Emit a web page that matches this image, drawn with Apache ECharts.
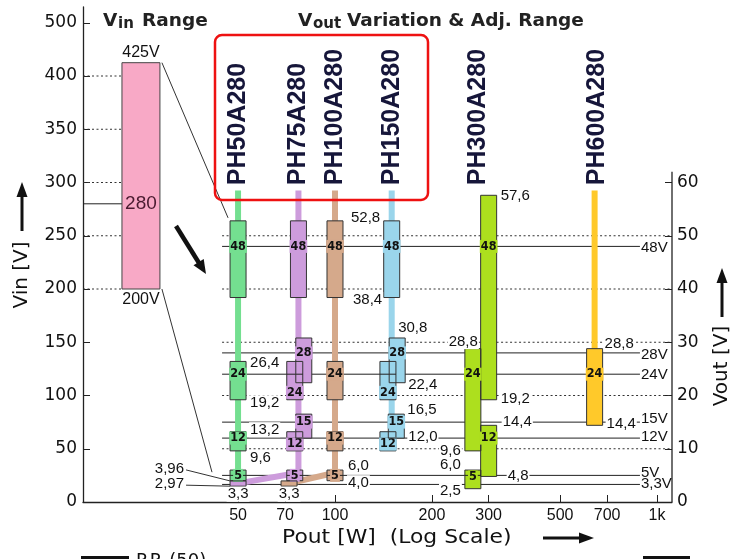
<!DOCTYPE html>
<html>
<head>
<meta charset="utf-8">
<title>PH-A280 Vin / Vout range</title>
<script src="https://cdn.jsdelivr.net/npm/echarts@6.0.0/dist/echarts.min.js"></script>
<style>
html, body { margin: 0; padding: 0; background: #fff; }
#main { width: 744px; height: 559px; }
</style>
</head>
<body>
<div id="main"></div>
<script>
// ---- values ----
const modelNames  = ['PH50A280', 'PH75A280', 'PH100A280', 'PH150A280', 'PH300A280', 'PH600A280'];
const modelPower  = [50, 77, 100, 150, 278, 650];
const modelColors = ['#74df90', '#cd9cdc', '#d5a98b', '#9ad5eb', '#addf1e', '#ffc92a'];

// adjustable Vout windows: owner model, power (W), low, high, nominal (V)
const boxModel   = [0, 0, 0, 0,  1, 1, 1, 1, 1, 1, 1,  2, 2, 2, 2, 2,  3, 3, 3, 3, 3,  4, 4, 4, 4,  5];
const boxPower   = [50, 50, 50, 50,  77, 75, 80, 75, 80, 75, 50,  100, 100, 100, 100, 72,  150, 146, 156, 146, 155,  300, 268, 300, 268,  640];
const boxLow     = [38.4, 19.2, 9.6, 4.0,  38.4, 19.2, 22.4, 9.6, 12.0, 4.0, 2.97,  38.4, 19.2, 9.6, 4.0, 2.97,  38.4, 19.2, 22.4, 9.6, 12.0,  19.2, 9.6, 4.8, 2.5,  14.4];
const boxHigh    = [52.8, 26.4, 13.2, 6.0,  52.8, 26.4, 30.8, 13.2, 16.5, 6.0, 3.96,  52.8, 26.4, 13.2, 6.0, 3.96,  52.8, 26.4, 30.8, 13.2, 16.5,  57.6, 28.8, 14.4, 6.0,  28.8];
const boxNominal = [48, 24, 12, 5,  48, 24, 28, 12, 15, 5, 3.3,  48, 24, 12, 5, 3.3,  48, 24, 28, 12, 15,  48, 24, 12, 5,  24];

// power bus of each model (W, Vout)
const stemModel  = [0, 1, 2, 3, 5];
const stemPoints = [
  [[50, 58.5], [50, 5]],
  [[77, 58.5], [77, 5.5], [50, 3.5]],
  [[100, 58.5], [100, 5.5], [72, 3.5]],
  [[150, 58.5], [150, 15]],
  [[640, 58.5], [640, 28.8]]
];

const levelVolts  = [48, 28, 24, 15, 12, 5, 3.3];
const levelLabels = ['48V', '28V', '24V', '15V', '12V', '5V', '3,3V'];

const vinLow = 200, vinHigh = 425, vinNominal = 280;

const vinTicks     = [0, 50, 100, 150, 200, 250, 300, 350, 400, 500];
const voutTicks    = [0, 10, 20, 30, 40, 50, 60];
const powerTicks   = [50, 70, 100, 200, 300, 500, 700, 1000];
const powerLabels  = ['50', '70', '100', '200', '300', '500', '700', '1k'];
const vinDotted    = [200, 250, 300, 350, 400];
const voutDotted   = [10, 20, 30, 40, 50];

// ---- layout ----
const VOUT_RATIO = 5;                 // Vout axis = Vin axis / 5
const VIN_MAX = 464.8;
const P_MIN = 16.5, P_MAX = 1113;
const lw = w => Math.log10(w);
const X_MIN = lw(P_MIN), X_MAX = lw(P_MAX);
const BOX_W = 16;
const VIN_BAR_W = [21.8, 28.6];       // where the Vin bar sits along the W axis
const LEVEL_FROM = 44.6, LEVEL_TO = 885;
const VOUT_AXIS_TOP = 62;
const boxLabelAt = [48, 24, 12, 5,  48, 20.6, 28, 10.9, 15, 5, null,  48, 24, 12, 5, null,  48, 20.6, 28, 10.9, 15,  48, 24, 12, 4.7,  24];
const levelDy = [1, 2, 1, -3, -1, -3, -1];
// annotations: box, value key, side, dx, dy, leader line
const annSpec = [
  [11, 'hi', 'r', 7, -3], [11, 'lo', 'r', 9, 2],
  [1, 'hi', 'r', 3, 1], [1, 'lo', 'r', 3, 3],
  [2, 'hi', 'r', 3, -2], [2, 'lo', 'r', 3, 7],
  [14, 'hi', 'r', 4, -4], [14, 'lo', 'r', 4, 2],
  [10, 'nom', 'b', 0, 8], [15, 'nom', 'b', 0, 8],
  [18, 'hi', 'r', -8, -10], [18, 'lo', 'r', 2, 2],
  [20, 'hi', 'r', 2, -4], [20, 'lo', 'r', 3, -1],
  [22, 'hi', 'l', 14, -7], [22, 'lo', 'l', -3, 0],
  [24, 'hi', 'l', -3, -5], [24, 'lo', 'l', -3, 2],
  [21, 'hi', 'r', 3, 1], [21, 'lo', 'r', 3, -1],
  [23, 'hi', 'r', 5, -3], [23, 'lo', 'r', 10, -1],
  [25, 'hi', 'r', 1, -5], [25, 'lo', 'r', 3, -1],
  [10, 'hi', 'l', -45, -12, true], [10, 'lo', 'l', -45, -2, true]
];

const brk = v => v <= 400 ? v : 400 + (v - 400) / 2;   // Vin axis is squeezed above 400
const unbrk = v => v <= 400 ? v : 400 + (v - 400) * 2;
const fmt = v => {
  const d = Math.abs(v * 10 - Math.round(v * 10)) < 1e-9 ? 1 : 2;
  return v.toFixed(d).replace('.', ',');
};
const boxValue = (i, k) => k === 'hi' ? boxHigh[i] : k === 'lo' ? boxLow[i] : boxNominal[i];

const SANS = '"Liberation Sans", Arial, sans-serif';
const DEJA = '"DejaVu Sans", sans-serif';
const NARROW = '"Liberation Sans Narrow", "DejaVu Sans Condensed", sans-serif';
const INK = '#222';

const chart = echarts.init(document.getElementById('main'));

function boxGeom(api, i) {
  const top = api.coord([lw(boxPower[i]), boxHigh[i]]);
  const bot = api.coord([lw(boxPower[i]), boxLow[i]]);
  return { cx: top[0], x: top[0] - BOX_W / 2, y: top[1], width: BOX_W, height: bot[1] - top[1] };
}

const option = {
  animation: false,
  backgroundColor: '#fff',
  grid: { left: 83, right: 72, top: 7, bottom: 57 },
  xAxis: {
    type: 'value', min: X_MIN, max: X_MAX,
    axisLine: { lineStyle: { color: INK, width: 1.3 } },
    axisTick: { inside: true, length: 7, lineStyle: { color: INK }, customValues: powerTicks.map(lw) },
    axisLabel: {
      customValues: powerTicks.map(lw), margin: 6,
      color: '#111', fontSize: 16, fontFamily: SANS,
      formatter: v => powerLabels[powerTicks.findIndex(p => Math.abs(lw(p) - v) < 1e-6)]
    },
    splitLine: { show: false }
  },
  yAxis: [
    {
      type: 'value', min: 0, max: VIN_MAX, position: 'left',
      axisLine: { show: true, lineStyle: { color: INK, width: 1.3 } },
      axisTick: { show: true, inside: true, length: 7, lineStyle: { color: INK }, customValues: vinTicks.map(brk) },
      axisLabel: { customValues: vinTicks.map(brk), margin: 6, color: '#111', fontSize: 17, fontFamily: DEJA,
        formatter: v => String(Math.round(unbrk(v))) },
      splitLine: { show: false }
    },
    {
      type: 'value', min: 0, max: VIN_MAX / VOUT_RATIO, position: 'right',
      axisLine: { show: false },
      axisTick: { show: true, inside: true, length: 7, lineStyle: { color: INK }, customValues: voutTicks },
      axisLabel: { customValues: voutTicks, margin: 5, color: '#111', fontSize: 17, fontFamily: DEJA },
      splitLine: { show: false }
    }
  ],
  series: [
    // right axis line, stops at the top of the Vout scale
    {
      type: 'custom', yAxisIndex: 1, z: 1,
      data: [[X_MAX, 0, VOUT_AXIS_TOP]],
      renderItem: (params, api) => {
        const a = api.coord([api.value(0), api.value(1)]);
        const b = api.coord([api.value(0), api.value(2)]);
        return { type: 'line', shape: { x1: a[0], y1: a[1], x2: b[0], y2: b[1] }, style: { stroke: INK, lineWidth: 1.3 } };
      }
    },
    // Vin dotted guides and 280 V line
    {
      type: 'custom', yAxisIndex: 0, z: 1,
      data: vinDotted.map(v => [X_MIN, v]),
      renderItem: (params, api) => {
        const a = api.coord([X_MIN, api.value(1)]);
        const b = api.coord([lw(VIN_BAR_W[0]), api.value(1)]);
        return { type: 'line', shape: { x1: a[0], y1: a[1], x2: b[0], y2: b[1] }, style: { stroke: '#333', lineWidth: 1, lineDash: [2, 2.5] } };
      }
    },
    // Vout dotted guides
    {
      type: 'custom', yAxisIndex: 1, z: 1,
      data: voutDotted.map(v => [lw(LEVEL_FROM), v]),
      renderItem: (params, api) => {
        const a = api.coord([lw(LEVEL_FROM), api.value(1)]);
        const b = api.coord([X_MAX, api.value(1)]);
        return { type: 'line', shape: { x1: a[0], y1: a[1], x2: b[0], y2: b[1] }, style: { stroke: '#333', lineWidth: 1, lineDash: [2, 2.5] } };
      }
    },
    // Vout levels
    {
      type: 'custom', yAxisIndex: 1, z: 2,
      data: levelVolts.map(v => [lw(LEVEL_FROM), v]),
      renderItem: (params, api) => {
        const i = params.dataIndex;
        const a = api.coord([lw(LEVEL_FROM), levelVolts[i]]);
        const b = api.coord([lw(LEVEL_TO), levelVolts[i]]);
        return { type: 'group', children: [
          { type: 'line', shape: { x1: a[0], y1: a[1], x2: b[0], y2: b[1] }, style: { stroke: '#222', lineWidth: 1 } },
          { type: 'text', x: b[0] + 1, y: b[1] + levelDy[i],
            style: { text: levelLabels[i], align: 'left', verticalAlign: 'middle', fontSize: 15, fontFamily: SANS, fill: '#111' } }
        ] };
      }
    },
    // Vin range bar
    {
      type: 'custom', yAxisIndex: 0, z: 3,
      data: [[lw(VIN_BAR_W[0]), vinLow, vinHigh, vinNominal]],
      renderItem: (params, api) => {
        const tl = api.coord([lw(VIN_BAR_W[0]), brk(vinHigh)]);
        const br = api.coord([lw(VIN_BAR_W[1]), vinLow]);
        const nomL = api.coord([X_MIN, vinNominal]);
        const nomY = api.coord([lw(VIN_BAR_W[0]), vinNominal])[1];
        const cx = (tl[0] + br[0]) / 2;
        const boxTop = api.coord([lw(boxPower[0]), boxHigh[0] * VOUT_RATIO]);
        const lowEnd = api.coord([lw(41.5), 5.6 * VOUT_RATIO]);
        return { type: 'group', children: [
          { type: 'line', shape: { x1: nomL[0], y1: nomY, x2: tl[0], y2: nomY }, style: { stroke: '#222', lineWidth: 1 } },
          { type: 'line', shape: { x1: br[0] + 2, y1: tl[1], x2: boxTop[0] - BOX_W / 2 - 2, y2: boxTop[1] - 3 }, style: { stroke: '#333', lineWidth: 1 } },
          { type: 'line', shape: { x1: br[0] + 2, y1: br[1], x2: lowEnd[0], y2: lowEnd[1] }, style: { stroke: '#333', lineWidth: 1 } },
          { type: 'rect', shape: { x: tl[0], y: tl[1], width: br[0] - tl[0], height: br[1] - tl[1] },
            style: { fill: '#f8a9c6', stroke: '#444', lineWidth: 1 } },
          { type: 'text', x: cx, y: nomY, style: { text: String(vinNominal), align: 'center', verticalAlign: 'middle', fontSize: 19, fontFamily: SANS, fill: '#4a1b30' } },
          { type: 'text', x: cx, y: tl[1] - 10, style: { text: vinHigh + 'V', align: 'center', verticalAlign: 'middle', fontSize: 16, fontFamily: SANS, fill: '#111' } },
          { type: 'text', x: cx, y: br[1] + 11, style: { text: vinLow + 'V', align: 'center', verticalAlign: 'middle', fontSize: 16, fontFamily: SANS, fill: '#111' } }
        ] };
      }
    },
    // model buses
    {
      type: 'custom', yAxisIndex: 1, z: 3,
      data: stemPoints.map(p => [lw(p[0][0]), p[0][1]]),
      renderItem: (params, api) => {
        const i = params.dataIndex;
        const pts = stemPoints[i].map(p => api.coord([lw(p[0]), p[1]]));
        return { type: 'polyline', shape: { points: pts }, style: { stroke: modelColors[stemModel[i]], lineWidth: 6, fill: 'none', lineJoin: 'round' } };
      }
    },
    // box fills
    {
      type: 'custom', yAxisIndex: 1, z: 4,
      data: boxPower.map((p, i) => [lw(p), boxLow[i], boxHigh[i]]),
      renderItem: (params, api) => {
        const g = boxGeom(api, params.dataIndex);
        return { type: 'rect', shape: { x: g.x, y: g.y, width: g.width, height: g.height }, style: { fill: modelColors[boxModel[params.dataIndex]] } };
      }
    },
    // box outlines, nominal tick and label
    {
      type: 'custom', yAxisIndex: 1, z: 5,
      data: boxPower.map((p, i) => [lw(p), boxLow[i], boxHigh[i]]),
      renderItem: (params, api) => {
        const i = params.dataIndex;
        const g = boxGeom(api, i);
        const children = [
          { type: 'rect', shape: { x: g.x, y: g.y, width: g.width, height: g.height }, style: { fill: 'none', stroke: '#333', lineWidth: 1 } }
        ];
        if (boxLabelAt[i] !== null) {
          const ny = api.coord([lw(boxPower[i]), boxNominal[i]])[1];
          const ly = api.coord([lw(boxPower[i]), boxLabelAt[i]])[1];
          children.push({ type: 'line', shape: { x1: g.x, y1: ny, x2: g.x + g.width, y2: ny }, style: { stroke: '#222', lineWidth: 1 } });
          children.push({ type: 'text', x: g.cx, y: ly,
            style: { text: String(boxNominal[i]), align: 'center', verticalAlign: 'middle', fontSize: 12.5, fontWeight: 'bold',
              fontFamily: NARROW, fill: '#111', backgroundColor: modelColors[boxModel[i]], padding: [0, 1] } });
        }
        return { type: 'group', children: children };
      }
    },
    // range annotations
    {
      type: 'custom', yAxisIndex: 1, z: 6,
      data: annSpec.map(s => [lw(boxPower[s[0]]), boxValue(s[0], s[1])]),
      renderItem: (params, api) => {
        const s = annSpec[params.dataIndex];
        const i = s[0], v = boxValue(i, s[1]);
        const g = boxGeom(api, i);
        const vy = api.coord([lw(boxPower[i]), v])[1];
        let x, y, align;
        if (s[2] === 'r') { x = g.x + g.width + s[3]; y = vy + s[4]; align = 'left'; }
        else if (s[2] === 'l') { x = g.x + s[3]; y = vy + s[4]; align = 'right'; }
        else { x = g.cx + s[3]; y = g.y + g.height + s[4]; align = 'center'; }
        const children = [
          { type: 'text', x: x, y: y, style: { text: fmt(v), align: align, verticalAlign: 'middle', fontSize: 15, fontFamily: SANS,
            fill: '#111', backgroundColor: s[5] ? null : '#fff', padding: [0, 1] } }
        ];
        if (s[5]) {
          children.push({ type: 'line', shape: { x1: x + 1, y1: y + 1, x2: g.x, y2: vy }, style: { stroke: '#333', lineWidth: 1 } });
        }
        return { type: 'group', children: children };
      }
    },
    // model names
    {
      type: 'custom', yAxisIndex: 1, z: 6,
      data: modelPower.map(p => [lw(p), 59.5]),
      renderItem: (params, api) => {
        const i = params.dataIndex;
        const c = api.coord([lw(modelPower[i]), 59.5]);
        return { type: 'text', x: c[0], y: c[1], rotation: Math.PI / 2,
          style: { text: modelNames[i], align: 'left', verticalAlign: 'middle', fontSize: 25, fontWeight: 'bold', fontFamily: SANS, fill: '#16163a' } };
      }
    }
  ],
  graphic: [
    { type: 'text', left: 103, top: 12, style: { text: 'V', fontSize: 18.5, fontWeight: 'bold', fontFamily: DEJA, fill: '#222' } },
    { type: 'text', left: 118, top: 17, style: { text: 'in', fontSize: 15, fontWeight: 'bold', fontFamily: DEJA, fill: '#222' } },
    { type: 'text', left: 142, top: 12, style: { text: 'Range', fontSize: 18.5, fontWeight: 'bold', fontFamily: DEJA, fill: '#222' } },
    { type: 'text', left: 298, top: 12, style: { text: 'V', fontSize: 18.5, fontWeight: 'bold', fontFamily: DEJA, fill: '#222' } },
    { type: 'text', left: 313, top: 17, style: { text: 'out', fontSize: 15, fontWeight: 'bold', fontFamily: DEJA, fill: '#222' } },
    { type: 'text', left: 347, top: 12, style: { text: 'Variation & Adj. Range', fontSize: 18.5, fontWeight: 'bold', fontFamily: DEJA, fill: '#222' } },
    { type: 'rect', shape: { x: 215, y: 35, width: 213, height: 165, r: 7 }, style: { fill: 'none', stroke: '#ee1111', lineWidth: 2.5 }, z: 10 },
    // pointer arrow
    { type: 'line', shape: { x1: 176, y1: 226, x2: 199, y2: 263 }, style: { stroke: '#111', lineWidth: 4.5 } },
    { type: 'polygon', shape: { points: [[206, 274], [203.7, 258.9], [193.5, 265.3]] }, style: { fill: '#111' } },
    // axis names
    { type: 'text', x: 22, y: 275, rotation: Math.PI / 2, style: { text: 'Vin [V]', align: 'center', verticalAlign: 'middle', fontSize: 20, fontFamily: DEJA, fill: '#111' } },
    { type: 'line', shape: { x1: 22, y1: 231, x2: 22, y2: 194 }, style: { stroke: '#111', lineWidth: 3 } },
    { type: 'polygon', shape: { points: [[22, 182], [16.5, 197], [27.5, 197]] }, style: { fill: '#111' } },
    { type: 'text', x: 722, y: 366, rotation: Math.PI / 2, style: { text: 'Vout [V]', align: 'center', verticalAlign: 'middle', fontSize: 20, fontFamily: DEJA, fill: '#111' } },
    { type: 'line', shape: { x1: 722, y1: 317, x2: 722, y2: 280 }, style: { stroke: '#111', lineWidth: 3 } },
    { type: 'polygon', shape: { points: [[722, 268], [716.5, 283], [727.5, 283]] }, style: { fill: '#111' } },
    { type: 'text', x: 282, y: 538, scaleX: 1.15, style: { text: 'Pout [W]  (Log Scale)', align: 'left', verticalAlign: 'middle', fontSize: 19, fontFamily: DEJA, fill: '#111' } },
    { type: 'line', shape: { x1: 543, y1: 538, x2: 580, y2: 538 }, style: { stroke: '#111', lineWidth: 3 } },
    { type: 'polygon', shape: { points: [[594, 538], [579, 532.5], [579, 543.5]] }, style: { fill: '#111' } },
    // legend cut by the lower edge
    { type: 'rect', shape: { x: 81, y: 556, width: 48, height: 3 }, style: { fill: '#111' } },
    { type: 'text', x: 136, y: 552, style: { text: 'P.P. (50)', align: 'left', verticalAlign: 'top', fontSize: 18, fontFamily: DEJA, fill: '#111' } },
    { type: 'rect', shape: { x: 643, y: 556, width: 47, height: 3 }, style: { fill: '#111' } }
  ]
};

chart.setOption(option);
</script>
</body>
</html>
